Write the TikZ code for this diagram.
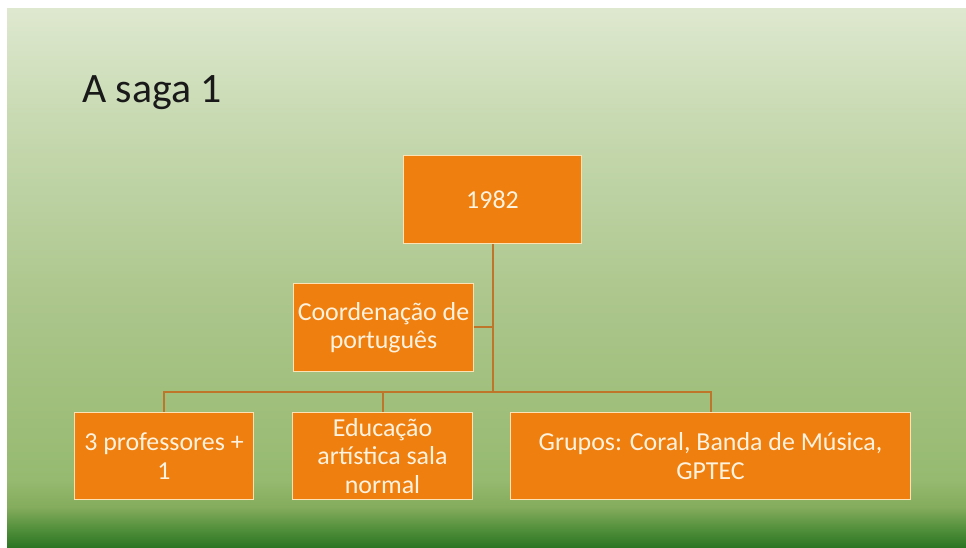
\documentclass[tikz,border=0pt]{standalone}
\usepackage{fontspec}
\setmainfont{Carlito}
\usetikzlibrary{calc}
\definecolor{bgA}{RGB}{222,232,207}
\definecolor{bgB}{RGB}{200,218,178}
\definecolor{bgC}{RGB}{172,198,140}
\definecolor{bgD}{RGB}{150,186,112}
\definecolor{bgE}{RGB}{132,172,92}
\definecolor{bgF}{RGB}{80,142,58}
\definecolor{bgG}{RGB}{42,116,34}
\definecolor{boxfill}{RGB}{239,127,14}
\definecolor{boxline}{RGB}{252,226,180}
\definecolor{boxtext}{RGB}{255,243,224}
\definecolor{connc}{RGB}{190,118,42}
\definecolor{titlec}{RGB}{25,25,25}
\pgfdeclareverticalshading{slidebg}{100bp}{color(0bp)=(bgG); color(25bp)=(bgG); color(26.7bp)=(bgF); color(28.8bp)=(bgE); color(31.3bp)=(bgD); color(48bp)=(bgC); color(65bp)=(bgB); color(75bp)=(bgA); color(100bp)=(bgA)}
\tikzset{
  orgbox/.style={draw=boxline, line width=1.8bp, fill=boxfill, text=boxtext,
    inner sep=0pt, align=center, font=\fontsize{26}{28.5}\selectfont},
  conn/.style={draw=connc, line width=2bp}
}
\begin{document}
\begin{tikzpicture}[x=1bp,y=-1bp]
\useasboundingbox[fill=white] (0,0) rectangle (966,548);
\fill[shading=slidebg] (7,9) rectangle (966,548);
\node[anchor=base west, inner sep=0pt, text=titlec, font=\fontsize{42}{50}\selectfont] (title) at (82,103) {A saga 1};
\node[orgbox, minimum width=178bp, minimum height=88bp] (top) at (492.5,199.5) {1982};
\node[orgbox, minimum width=180bp, minimum height=88bp] (coord) at (383.5,327.5) {Coordenação de\\português};
\node[orgbox, minimum width=179bp, minimum height=87bp] (c1) at (164,456) {3 professores +\\1};
\node[orgbox, minimum width=180bp, minimum height=87bp] (c2) at (382.5,456) {Educação\\artística sala\\normal};
\node[orgbox, minimum width=400bp, minimum height=87bp] (c3) at (710.5,456) {Grupos: Coral, Banda de Música,\\GPTEC};
\coordinate (busy) at (0,392);
\draw[conn] (top.south) -- (top.south |- busy);
\draw[conn] (coord.east) -- (coord.east -| top.south);
\draw[conn] (c1.north) -- (c1.north |- busy) -- (c3.north |- busy) -- (c3.north);
\draw[conn] (c2.north) -- (c2.north |- busy);
\end{tikzpicture}
\end{document}
